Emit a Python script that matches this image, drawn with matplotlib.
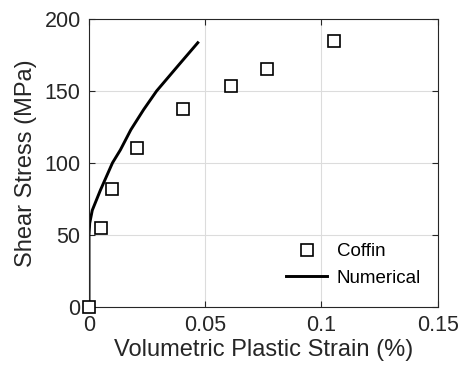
import matplotlib
matplotlib.use("Agg")
import matplotlib.pyplot as plt

plt.rcParams['font.family'] = ['Liberation Sans', 'DejaVu Sans']

coffin_x = [0.0, 0.005, 0.0098, 0.0205, 0.0406, 0.061, 0.0764, 0.1054]
coffin_y = [0, 55, 82, 110, 137.7, 153.4, 165, 184.6]

num_x = [0.0, 0.0, 0.0003, 0.0014, 0.0049, 0.0101, 0.0135, 0.0180, 0.0235, 0.0291, 0.0391, 0.0468]
num_y = [0, 50, 58, 67, 81, 100, 109, 123, 137, 150, 169, 183.5]

xticks = [0, 0.05, 0.1, 0.15]
xticklabels = ['0', '0.05', '0.1', '0.15']
yticks = [0, 50, 100, 150, 200]

fig = plt.figure(figsize=(4.62, 3.72), dpi=100)
ax = fig.add_axes([89/462, 1-306.7/372, (437.7-89)/462, (306.7-19)/372])

tc = '#262626'
ax.plot(coffin_x, coffin_y, linestyle='none', marker='s', markersize=8,
        markerfacecolor='white', markeredgecolor='black', markeredgewidth=1.2,
        label='Coffin', clip_on=False, zorder=3)
ax.plot(num_x, num_y, color='black', linewidth=2.1, label='Numerical', zorder=2,
        solid_joinstyle='round')

ax.set_xlim(0, 0.15)
ax.set_ylim(0, 200)
ax.set_xticks(xticks)
ax.set_xticklabels(xticklabels)
ax.set_yticks(yticks)
ax.grid(True, color='#dcdcdc', linewidth=0.8)
ax.set_axisbelow(True)
ax.tick_params(direction='in', length=4, labelsize=15.5, colors=tc,
               top=True, right=True, pad=6)
for s in ax.spines.values():
    s.set_color(tc)
    s.set_linewidth(0.8)

ax.set_xlabel('Volumetric Plastic Strain (%)', fontsize=17, color=tc, labelpad=2)
ax.set_ylabel('Shear Stress (MPa)', fontsize=17, color=tc, labelpad=5)

leg = ax.legend(loc='lower right', frameon=False, fontsize=13.5, handlelength=2.2,
                bbox_to_anchor=(1.0, 0.01), labelspacing=0.5, handletextpad=0.5)
for t in leg.get_texts():
    t.set_color('black')

fig.savefig('out.png', dpi=100)
